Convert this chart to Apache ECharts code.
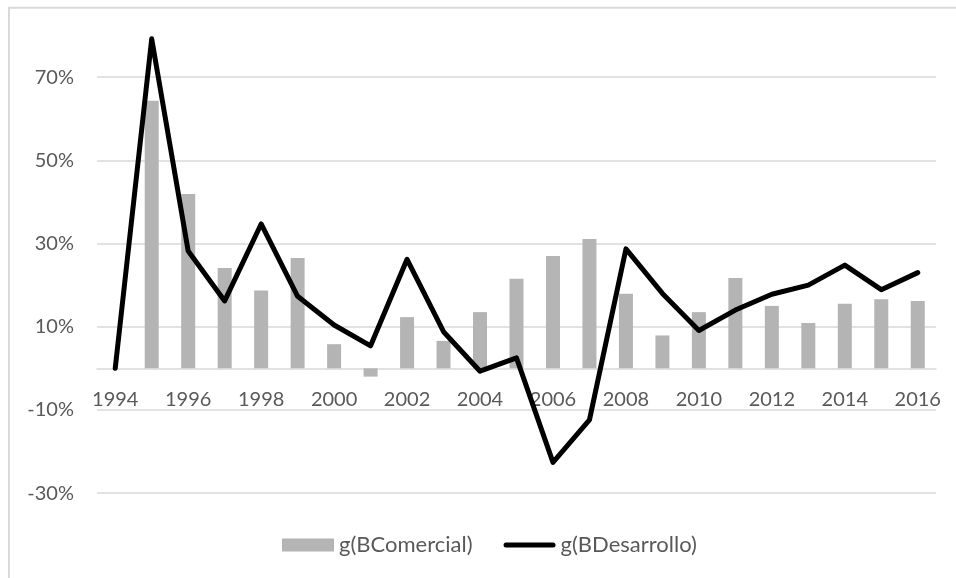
<!DOCTYPE html>
<html>
<head>
<meta charset="utf-8">
<script src="https://cdn.jsdelivr.net/npm/echarts@6/dist/echarts.min.js"></script>
<style>
html,body{margin:0;padding:0;background:#fff;}
#chart{width:956px;height:578px;}
</style>
</head>
<body>
<div id="chart"></div>
<script>
var years = ['1994','1995','1996','1997','1998','1999','2000','2001','2002','2003','2004','2005','2006','2007','2008','2009','2010','2011','2012','2013','2014','2015','2016'];
var bComercial = [null,0.643,0.419,0.241,0.187,0.265,0.058,-0.020,0.123,0.066,0.135,0.215,0.270,0.311,0.179,0.079,0.135,0.217,0.150,0.109,0.155,0.166,0.162];
var bDesarrollo = [0.000,0.792,0.282,0.162,0.347,0.173,0.104,0.054,0.262,0.088,-0.007,0.025,-0.226,-0.124,0.287,0.180,0.091,0.140,0.178,0.200,0.248,0.189,0.230];
var seriesNames = ['g(BComercial)','g(BDesarrollo)'];

var chart = echarts.init(document.getElementById('chart'));
var font = 'Lato';
var yMin = -0.3, yMax = 0.8;
var gridTop = 35.5, gridBottom = 84.9;
var plotH = 578 - gridTop - gridBottom;
var zeroOffset = -plotH * (0 - yMin) / (yMax - yMin);
chart.setOption({
  animation: false,
  backgroundColor: '#ffffff',
  graphic: [{
    type: 'rect', silent: true, z: -10,
    shape: {x: 9, y: 7.7, width: 1000, height: 1000},
    style: {fill: 'none', stroke: '#d9d9d9', lineWidth: 2}
  }],
  grid: {left: 97, right: 20, top: gridTop, bottom: gridBottom, containLabel: false},
  legend: {
    left: 277, top: 529,
    itemWidth: 52, itemHeight: 13, itemGap: 31,
    textStyle: {fontFamily: font, fontSize: 22, color: '#595959'},
    data: [
      {name: seriesNames[0], icon: 'rect'},
      {name: seriesNames[1], icon: 'path://M2.5,0 L49.5,0 A2.5,2.5 0 0 1 49.5,5 L2.5,5 A2.5,2.5 0 0 1 2.5,0 Z'}
    ]
  },
  xAxis: {
    type: 'category',
    data: years,
    boundaryGap: true,
    offset: zeroOffset,
    axisLine: {onZero: false, lineStyle: {color: '#d9d9d9', width: 1.5}},
    axisTick: {show: false},
    axisLabel: {interval: 1, margin: 21, fontFamily: font, fontSize: 20, color: '#595959'},
    splitLine: {show: false}
  },
  yAxis: {
    type: 'value',
    min: yMin, max: yMax, interval: 0.2,
    axisLine: {show: false},
    axisTick: {show: false},
    axisLabel: {
      margin: 23, fontFamily: font, fontSize: 20, color: '#595959',
      showMaxLabel: false,
      formatter: function (v) { return Math.round(v * 100) + '%'; }
    },
    splitLine: {show: true, showMaxLine: false, lineStyle: {color: '#d9d9d9', width: 1.5}}
  },
  series: [
    {
      name: seriesNames[0], type: 'bar', data: bComercial,
      barWidth: 14, itemStyle: {color: '#b4b4b4'}, z: 2
    },
    {
      name: seriesNames[1], type: 'line', data: bDesarrollo,
      symbol: 'none', smooth: false,
      lineStyle: {color: '#000000', width: 5, cap: 'round', join: 'round'},
      itemStyle: {color: '#000000'}, z: 3
    }
  ]
});
</script>
</body>
</html>
